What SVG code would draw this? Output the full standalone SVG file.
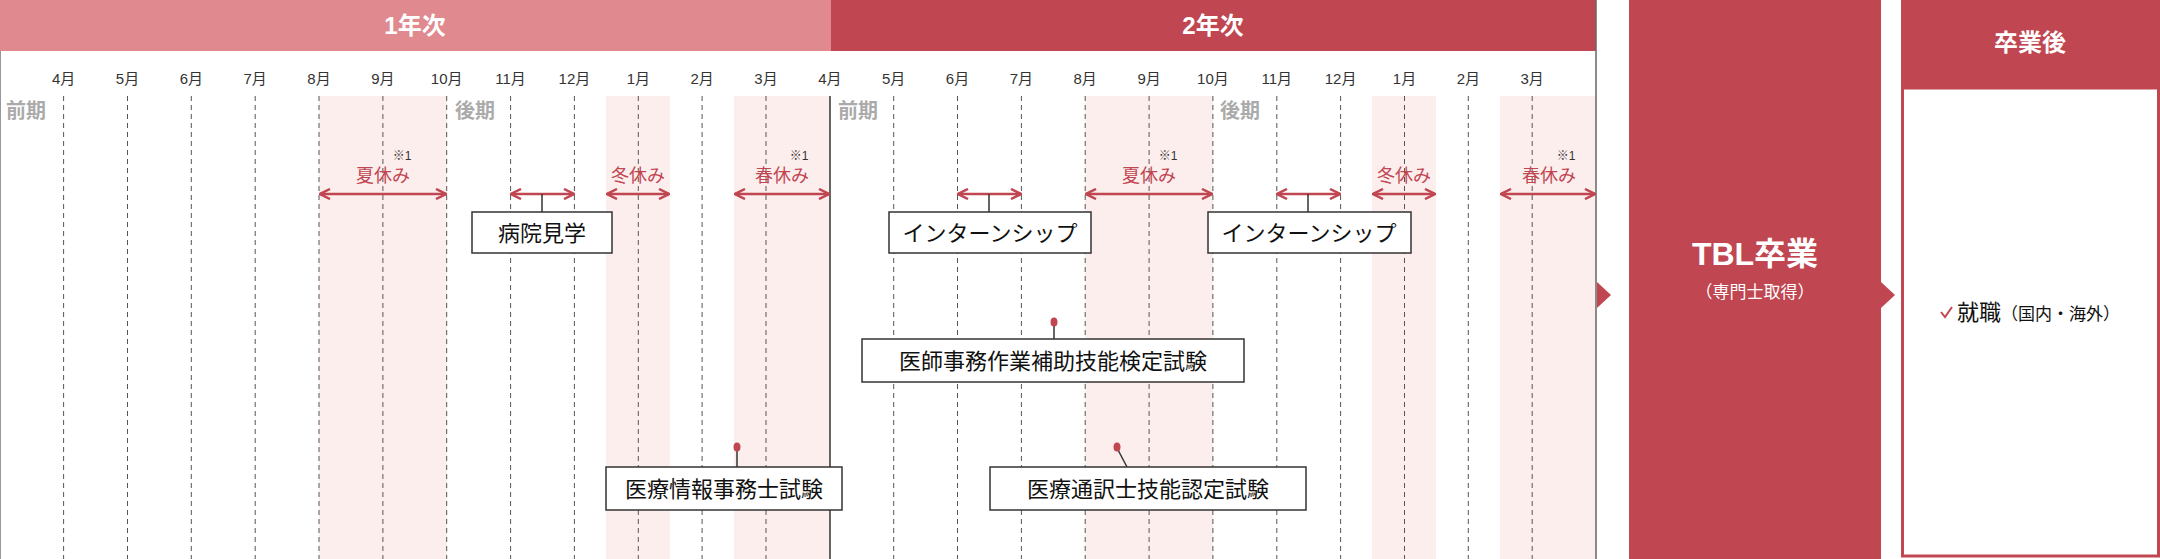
<svg xmlns="http://www.w3.org/2000/svg" width="2160" height="559" viewBox="0 0 2160 559">
<style>
text{font-family:"Liberation Sans","Noto Sans CJK JP",sans-serif}
.m{font-size:15px;fill:#333;text-anchor:middle}
.ki{font-size:20px;font-weight:bold;fill:#aaa}
.hol{font-size:18px;fill:#c04651;text-anchor:middle}
.note{font-size:12px;fill:#333;text-anchor:middle}
.dash{stroke:#555;stroke-width:1;stroke-dasharray:5,4}
.band{fill:#fdeeee}
.arr{stroke:#c04651;stroke-width:2.5;fill:none;marker-start:url(#h);marker-end:url(#h)}
.box rect{fill:#fff;stroke:#333;stroke-width:1.5}
.box text{font-size:22px;fill:#111;text-anchor:middle}
.stem{stroke:#333;stroke-width:1.5}
.dot{fill:#c04651}
</style>
<defs>
<marker id="h" viewBox="0 0 10 10" refX="9" refY="5" markerWidth="5" markerHeight="5" orient="auto-start-reverse"><path d="M1,1 L9,5 L1,9" fill="none" stroke="#c04651" stroke-width="2"/></marker>
</defs>
<rect width="2160" height="559" fill="#fff"/>
<g id="bands">
<rect class="band" x="319" y="96" width="128" height="463"/>
<rect class="band" x="606" y="96" width="64" height="463"/>
<rect class="band" x="734" y="96" width="96" height="463"/>
<rect class="band" x="1085" y="96" width="128" height="463"/>
<rect class="band" x="1372" y="96" width="64" height="463"/>
<rect class="band" x="1500" y="96" width="96" height="463"/>
</g>
<g id="header1"><rect x="0" y="0" width="831" height="51" fill="#e08a90"/><text x="415" y="34" font-size="24" font-weight="bold" fill="#fff" text-anchor="middle">1年次</text></g>
<g id="header2"><rect x="831" y="0" width="765" height="51" fill="#c04651"/><text x="1213" y="34" font-size="24" font-weight="bold" fill="#fff" text-anchor="middle">2年次</text></g>
<g id="grid">
<line x1="0.5" y1="51" x2="0.5" y2="559" stroke="#999"/>
<line x1="1596" y1="0" x2="1596" y2="559" stroke="#666" stroke-width="1.5"/>
<line x1="830" y1="96" x2="830" y2="559" stroke="#333" stroke-width="1.5"/>
<g class="dash">
<line x1="63.6" y1="96" x2="63.6" y2="559"/><line x1="127.5" y1="96" x2="127.5" y2="559"/><line x1="191.3" y1="96" x2="191.3" y2="559"/><line x1="255.2" y1="96" x2="255.2" y2="559"/><line x1="319" y1="96" x2="319" y2="559"/><line x1="382.9" y1="96" x2="382.9" y2="559"/><line x1="446.7" y1="96" x2="446.7" y2="559"/><line x1="510.6" y1="96" x2="510.6" y2="559"/><line x1="574.4" y1="96" x2="574.4" y2="559"/><line x1="638.3" y1="96" x2="638.3" y2="559"/><line x1="702.1" y1="96" x2="702.1" y2="559"/><line x1="766" y1="96" x2="766" y2="559"/>
<line x1="893.7" y1="96" x2="893.7" y2="559"/><line x1="957.5" y1="96" x2="957.5" y2="559"/><line x1="1021.4" y1="96" x2="1021.4" y2="559"/><line x1="1085.2" y1="96" x2="1085.2" y2="559"/><line x1="1149.1" y1="96" x2="1149.1" y2="559"/><line x1="1212.9" y1="96" x2="1212.9" y2="559"/><line x1="1276.8" y1="96" x2="1276.8" y2="559"/><line x1="1340.6" y1="96" x2="1340.6" y2="559"/><line x1="1404.5" y1="96" x2="1404.5" y2="559"/><line x1="1468.3" y1="96" x2="1468.3" y2="559"/><line x1="1532.2" y1="96" x2="1532.2" y2="559"/>
</g>
</g>
<g id="months">
<text class="m" x="63.6" y="84">4月</text><text class="m" x="127.5" y="84">5月</text><text class="m" x="191.3" y="84">6月</text><text class="m" x="255.2" y="84">7月</text><text class="m" x="319" y="84">8月</text><text class="m" x="382.9" y="84">9月</text><text class="m" x="446.7" y="84">10月</text><text class="m" x="510.6" y="84">11月</text><text class="m" x="574.4" y="84">12月</text><text class="m" x="638.3" y="84">1月</text><text class="m" x="702.1" y="84">2月</text><text class="m" x="766" y="84">3月</text>
<text class="m" x="829.8" y="84">4月</text><text class="m" x="893.7" y="84">5月</text><text class="m" x="957.5" y="84">6月</text><text class="m" x="1021.4" y="84">7月</text><text class="m" x="1085.2" y="84">8月</text><text class="m" x="1149.1" y="84">9月</text><text class="m" x="1212.9" y="84">10月</text><text class="m" x="1276.8" y="84">11月</text><text class="m" x="1340.6" y="84">12月</text><text class="m" x="1404.5" y="84">1月</text><text class="m" x="1468.3" y="84">2月</text><text class="m" x="1532.2" y="84">3月</text>
<text class="ki" x="6" y="118">前期</text><text class="ki" x="455" y="118">後期</text>
<text class="ki" x="838" y="118">前期</text><text class="ki" x="1220" y="118">後期</text>
</g>
<g id="holidays">
<text class="note" x="402" y="160">※1</text><text class="hol" x="383" y="182">夏休み</text>
<text class="hol" x="638" y="182">冬休み</text>
<text class="note" x="799" y="160">※1</text><text class="hol" x="782" y="182">春休み</text>
<text class="note" x="1168" y="160">※1</text><text class="hol" x="1149" y="182">夏休み</text>
<text class="hol" x="1404" y="182">冬休み</text>
<text class="note" x="1566" y="160">※1</text><text class="hol" x="1549" y="182">春休み</text>
</g>
<g id="connectors">
<line class="arr" x1="320" y1="194" x2="446" y2="194"/>
<line class="arr" x1="607" y1="194" x2="669" y2="194"/>
<line class="arr" x1="735" y1="194" x2="829" y2="194"/>
<line class="arr" x1="1086" y1="194" x2="1212" y2="194"/>
<line class="arr" x1="1373" y1="194" x2="1435" y2="194"/>
<line class="arr" x1="1501" y1="194" x2="1595" y2="194"/>
<line class="arr" x1="511" y1="194" x2="574" y2="194"/>
<line class="arr" x1="958" y1="194" x2="1021" y2="194"/>
<line class="arr" x1="1277" y1="194" x2="1340" y2="194"/>
<line class="stem" x1="542" y1="194" x2="542" y2="212"/>
<line class="stem" x1="989" y1="194" x2="989" y2="212"/>
<line class="stem" x1="1308" y1="194" x2="1308" y2="212"/>
<line class="stem" x1="1054" y1="324" x2="1054" y2="339"/>
<line class="stem" x1="737" y1="448" x2="737" y2="467"/>
<line class="stem" x1="1117" y1="448" x2="1127" y2="467"/>
<ellipse class="dot" cx="1054" cy="322" rx="3.5" ry="4.5"/>
<ellipse class="dot" cx="737" cy="447" rx="3.5" ry="4.5"/>
<ellipse class="dot" cx="1117" cy="447" rx="3.5" ry="4.5"/>
</g>
<g id="n1" class="box"><rect x="472" y="212" width="140" height="41"/><text x="542" y="241">病院見学</text></g>
<g id="n2" class="box"><rect x="889" y="212" width="202" height="41"/><text x="990" y="241">インターンシップ</text></g>
<g id="n3" class="box"><rect x="1208" y="212" width="203" height="41"/><text x="1309" y="241">インターンシップ</text></g>
<g id="n4" class="box"><rect x="862" y="339" width="382" height="43"/><text x="1053" y="369">医師事務作業補助技能検定試験</text></g>
<g id="n5" class="box"><rect x="606" y="467" width="236" height="43"/><text x="724" y="497">医療情報事務士試験</text></g>
<g id="n6" class="box"><rect x="990" y="467" width="316" height="43"/><text x="1148" y="497">医療通訳士技能認定試験</text></g>
<g id="tbl">
<path d="M1597,282 L1611,295 L1597,308 Z" fill="#c04651"/>
<rect x="1629" y="0" width="252" height="559" fill="#c04651"/>
<text x="1755" y="265" font-size="32" font-weight="bold" fill="#fff" text-anchor="middle">TBL卒業</text>
<text x="1755" y="298" font-size="17" fill="#fff" text-anchor="middle">（専門士取得）</text>
<path d="M1881,282 L1895,295 L1881,308 Z" fill="#c04651"/>
</g>
<g id="after">
<rect x="1901" y="0" width="259" height="96" fill="#c04651"/>
<text x="2030" y="51" font-size="24" font-weight="bold" fill="#fff" text-anchor="middle">卒業後</text>
<rect x="1902.5" y="88" width="256" height="468" fill="#fff" stroke="#c04651" stroke-width="3"/>
<path d="M1941,312 L1945,317 L1952,307" fill="none" stroke="#c04651" stroke-width="2"/>
<text x="1957" y="320" font-size="22" fill="#111">就職<tspan font-size="17">（国内・海外）</tspan></text>
</g>
</svg>
